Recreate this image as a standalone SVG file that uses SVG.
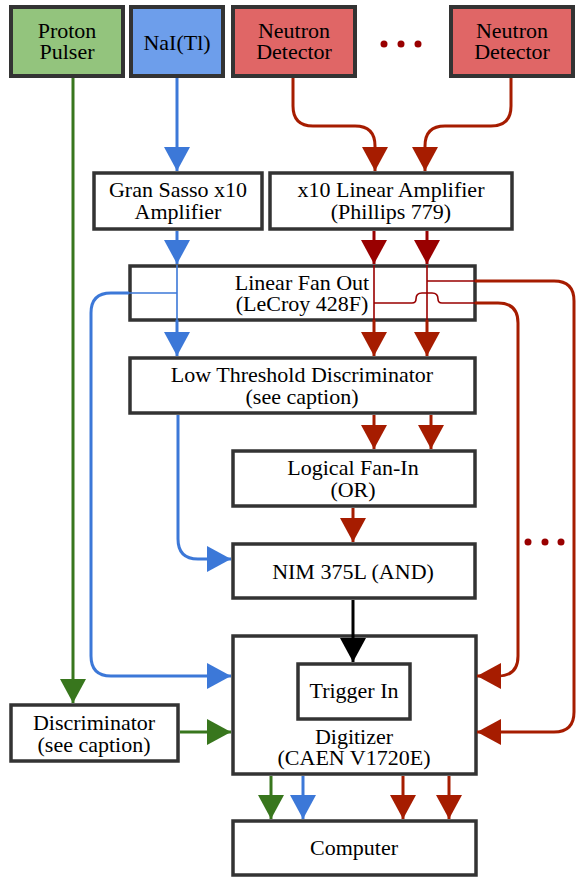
<svg xmlns="http://www.w3.org/2000/svg" width="576" height="877" viewBox="0 0 576 877">
<defs>
<style>
.box{fill:#ffffff;stroke:#333333;stroke-width:3.5}
.t{font-family:"Liberation Serif","Times New Roman",serif;font-size:22px;fill:#000;text-anchor:middle}
.c{fill:none;stroke-width:3}
.thin{fill:none;stroke-width:1.6}
.g{stroke:#38761d}
.b{stroke:#3c78d8}
.r{stroke:#a61c00}
.dr{stroke:#990000}
.k{stroke:#000000}
</style>
<marker id="aG" viewBox="0 0 24 26" refX="24" refY="13" markerWidth="24" markerHeight="26" markerUnits="userSpaceOnUse" orient="auto"><path d="M0,0 L24,13 L0,26 z" fill="#38761d"/></marker>
<marker id="aB" viewBox="0 0 24 26" refX="24" refY="13" markerWidth="24" markerHeight="26" markerUnits="userSpaceOnUse" orient="auto"><path d="M0,0 L24,13 L0,26 z" fill="#3c78d8"/></marker>
<marker id="aR" viewBox="0 0 24 26" refX="24" refY="13" markerWidth="24" markerHeight="26" markerUnits="userSpaceOnUse" orient="auto"><path d="M0,0 L24,13 L0,26 z" fill="#a61c00"/></marker>
<marker id="aD" viewBox="0 0 24 26" refX="24" refY="13" markerWidth="24" markerHeight="26" markerUnits="userSpaceOnUse" orient="auto"><path d="M0,0 L24,13 L0,26 z" fill="#990000"/></marker>
<marker id="aK" viewBox="0 0 24 26" refX="24" refY="13" markerWidth="24" markerHeight="26" markerUnits="userSpaceOnUse" orient="auto"><path d="M0,0 L24,13 L0,26 z" fill="#000000"/></marker>
</defs>
<rect width="576" height="877" fill="#ffffff"/>

<g id="proton-pulser"><rect x="11" y="7" width="112" height="69" fill="#93c47d" stroke="#333333" stroke-width="4"/><text class="t" x="67" y="38">Proton</text><text class="t" x="67" y="59">Pulser</text></g>
<g id="nai"><rect x="131" y="7" width="92" height="69" fill="#6d9eeb" stroke="#333333" stroke-width="4"/><text class="t" x="177" y="50">NaI(Tl)</text></g>
<g id="neutron-detector-1"><rect x="233" y="7" width="122" height="69" fill="#e06666" stroke="#333333" stroke-width="4"/><text class="t" x="294" y="38">Neutron</text><text class="t" x="294" y="59">Detector</text></g>
<g id="neutron-detector-2"><rect x="451" y="7" width="122" height="69" fill="#e06666" stroke="#333333" stroke-width="4"/><text class="t" x="512" y="38">Neutron</text><text class="t" x="512" y="59">Detector</text></g>
<g id="gran-sasso"><rect class="box" x="94" y="173" width="168" height="56"/><text class="t" x="178" y="197">Gran Sasso x10</text><text class="t" x="178" y="219">Amplifier</text></g>
<g id="x10-amp"><rect class="box" x="270" y="173" width="242" height="56"/><text class="t" x="391" y="197">x10 Linear Amplifier</text><text class="t" x="391" y="219">(Phillips 779)</text></g>
<g id="fan-out"><rect class="box" x="130" y="266" width="345" height="54"/><text class="t" x="302" y="290">Linear Fan Out</text><text class="t" x="302" y="311">(LeCroy 428F)</text></g>
<g id="low-threshold"><rect class="box" x="130" y="358" width="345" height="55"/><text class="t" x="302" y="382">Low Threshold Discriminator</text><text class="t" x="302" y="404">(see caption)</text></g>
<g id="fan-in"><rect class="box" x="233" y="451" width="242" height="55"/><text class="t" x="353" y="475">Logical Fan-In</text><text class="t" x="353" y="497">(OR)</text></g>
<g id="nim"><rect class="box" x="233" y="544" width="242" height="54"/><text class="t" x="353" y="579">NIM 375L (AND)</text></g>
<g id="digitizer"><rect class="box" x="233" y="636" width="243" height="138"/><text class="t" x="354" y="744">Digitizer</text><text class="t" x="354" y="765">(CAEN V1720E)</text></g>
<g id="trigger-in"><rect class="box" x="298" y="664" width="112" height="55"/><text class="t" x="354" y="698">Trigger In</text></g>
<g id="discriminator"><rect class="box" x="11" y="705" width="167" height="56"/><text class="t" x="94" y="730">Discriminator</text><text class="t" x="94" y="752">(see caption)</text></g>
<g id="computer"><rect class="box" x="233" y="821" width="243" height="54"/><text class="t" x="354" y="855">Computer</text></g>

<g id="connectors">
<path class="c g" d="M73,78 V703" marker-end="url(#aG)"/>
<path class="c b" d="M177,78 V171" marker-end="url(#aB)"/>
<path class="c r" d="M293,78 V106 Q293,126 313,126 H355 Q375,126 375,146 V171" marker-end="url(#aR)"/>
<path class="c r" d="M511,78 V106 Q511,126 491,126 H445 Q425,126 425,146 V171" marker-end="url(#aR)"/>
<path class="c b" d="M177,231 V264" marker-end="url(#aB)"/>
<path class="thin b" d="M177,265 V320 M177,293 H129"/>
<path class="c b" d="M177,320 V356" marker-end="url(#aB)"/>
<path class="c b" d="M129,293 H111 Q91,293 91,313 V656 Q91,676 111,676 H231" marker-end="url(#aB)"/>
<path class="c dr" d="M374,231 V264" marker-end="url(#aD)"/>
<path class="c dr" d="M427,231 V264" marker-end="url(#aD)"/>
<path class="thin dr" d="M374,265 V320 M427,265 V320 M427,281 H475 M374,303 H412 Q416,303 416,299 Q416,293 422,293 H432 Q438,293 438,299 Q438,303 442,303 H475"/>
<path class="c r" d="M374,320 V356" marker-end="url(#aR)"/>
<path class="c r" d="M427,320 V356" marker-end="url(#aR)"/>
<path class="c r" d="M475,303 H498 Q518,303 518,323 V656 Q518,676 498,676 H477" marker-end="url(#aR)"/>
<path class="c r" d="M475,281 H554 Q574,281 574,301 V712 Q574,732 554,732 H477" marker-end="url(#aR)"/>
<path class="c r" d="M374,415 V449" marker-end="url(#aR)"/>
<path class="c r" d="M431,415 V449" marker-end="url(#aR)"/>
<path class="c b" d="M178,415 V539 Q178,559 198,559 H231" marker-end="url(#aB)"/>
<path class="c r" d="M353,508 V542" marker-end="url(#aR)"/>
<path class="c k" d="M353,600 V662" marker-end="url(#aK)"/>
<path class="c g" d="M180,732 H231" marker-end="url(#aG)"/>
<path class="c g" d="M271,776 V819" marker-end="url(#aG)"/>
<path class="c b" d="M303,776 V819" marker-end="url(#aB)"/>
<path class="c r" d="M403,776 V819" marker-end="url(#aR)"/>
<path class="c r" d="M449,776 V819" marker-end="url(#aR)"/>
<g fill="#990000">
<circle cx="384" cy="44" r="3.5"/><circle cx="401" cy="44" r="3.5"/><circle cx="418" cy="44" r="3.5"/>
<circle cx="528" cy="542" r="3.5"/><circle cx="545" cy="542" r="3.5"/><circle cx="561" cy="542" r="3.5"/>
</g>
</g>
</svg>
